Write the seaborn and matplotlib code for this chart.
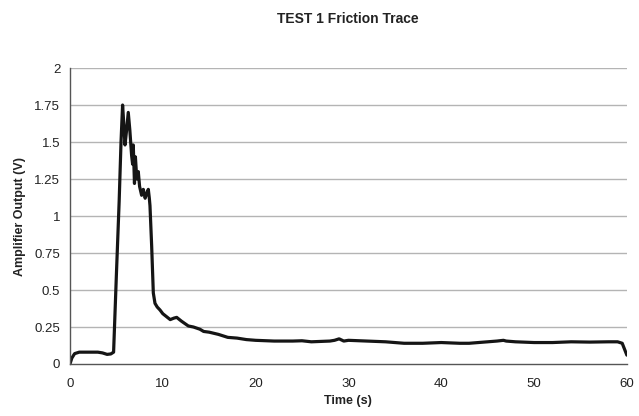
import matplotlib
matplotlib.use("Agg")
import matplotlib.pyplot as plt
import seaborn as sns
import pandas as pd

time_s = [0, 0.2, 0.5, 1, 2, 3, 3.5, 4, 4.4, 4.7, 5.0, 5.3, 5.5, 5.67, 5.8, 5.93, 6.1, 6.28,
          6.45, 6.64, 6.75, 6.82, 6.95, 7.05, 7.2, 7.36, 7.5, 7.72, 7.9, 8.1, 8.25, 8.44,
          8.55, 8.62, 8.8, 8.98, 9.16, 9.4, 9.7, 10.0, 10.4, 10.8, 11.2, 11.5, 12.0, 12.75,
          13.3, 14, 14.4, 15, 16, 16.5, 17, 18, 19, 20, 22, 24, 25, 26, 28, 28.5, 29, 29.5,
          30, 32, 34, 36, 38, 40, 42, 43, 44, 45, 46, 46.7, 47, 48, 50, 52, 54, 56, 58, 59,
          59.5, 60]
output_v = [0, 0.04, 0.07, 0.08, 0.08, 0.08, 0.075, 0.065, 0.068, 0.08, 0.6, 1.1, 1.5, 1.75,
            1.62, 1.48, 1.58, 1.70, 1.58, 1.41, 1.35, 1.48, 1.22, 1.40, 1.25, 1.30, 1.20,
            1.14, 1.18, 1.12, 1.15, 1.18, 1.12, 1.07, 0.80, 0.48, 0.41, 0.385, 0.365, 0.34,
            0.32, 0.30, 0.31, 0.315, 0.29, 0.257, 0.25, 0.235, 0.22, 0.215, 0.20, 0.19, 0.18,
            0.175, 0.165, 0.16, 0.155, 0.155, 0.157, 0.15, 0.155, 0.16, 0.17, 0.155, 0.16,
            0.155, 0.15, 0.14, 0.14, 0.145, 0.14, 0.14, 0.145, 0.15, 0.155, 0.16, 0.155,
            0.15, 0.145, 0.145, 0.15, 0.148, 0.15, 0.15, 0.14, 0.06]
x_ticks = [0, 10, 20, 30, 40, 50, 60]
y_ticks = [0, 0.25, 0.5, 0.75, 1, 1.25, 1.5, 1.75, 2]
y_labels = ["0", "0.25", "0.5", "0.75", "1", "1.25", "1.5", "1.75", "2"]

sns.set_theme(style="white")
plt.rcParams["font.family"] = ["Liberation Sans", "DejaVu Sans"]

df = pd.DataFrame({"Time (s)": time_s, "Amplifier Output (V)": output_v})

fig = plt.figure(figsize=(6.39, 4.16), dpi=100)
ax = fig.add_axes([0.1095, 0.125, 0.8715, 0.7115])
for yv in y_ticks[1:]:
    ax.axhline(yv, color="#b4b4b4", lw=1.0, zorder=0)
sns.lineplot(data=df, x="Time (s)", y="Amplifier Output (V)", ax=ax,
             color="#151515", linewidth=2.3)
ax.set_xlim(0, 60)
ax.set_ylim(0, 2)
ax.set_xticks(x_ticks)
ax.set_yticks(y_ticks)
ax.set_yticklabels(y_labels)
for s in ["top", "right"]:
    ax.spines[s].set_visible(False)
for s in ["left", "bottom"]:
    ax.spines[s].set_color("#555555")
    ax.spines[s].set_linewidth(1.0)
ax.tick_params(axis="both", direction="out", length=4, width=1, color="#555555",
               labelsize=9.5, labelcolor="#222222", pad=3)
ax.tick_params(axis="x", pad=6)
ax.set_xlabel("Time (s)", fontsize=9, fontweight="bold", color="#222222", labelpad=4)
ax.set_ylabel("Amplifier Output (V)", fontsize=9, fontweight="bold", color="#222222", labelpad=6)
fig.suptitle("TEST 1 Friction Trace", x=0.545, y=0.97, fontsize=10, fontweight="bold",
             color="#222222")
fig.savefig("out.png", dpi=100, facecolor="white")
